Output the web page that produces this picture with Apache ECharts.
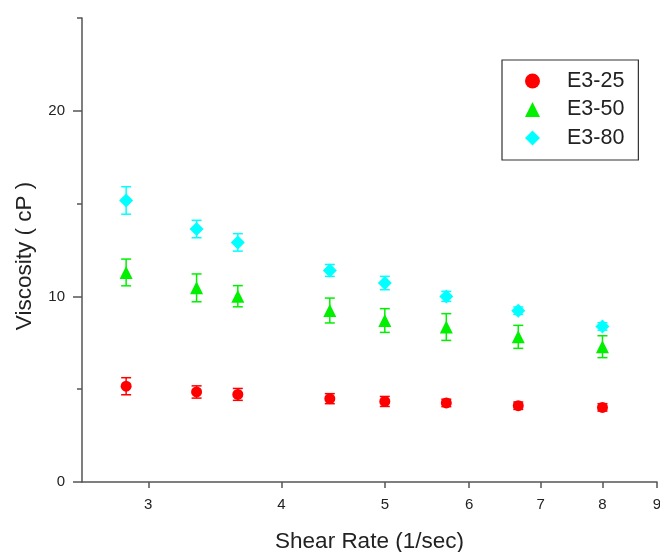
<!DOCTYPE html>
<html>
<head>
<meta charset="utf-8">
<script src="https://cdn.jsdelivr.net/npm/echarts@6/dist/echarts.min.js"></script>
<style>html,body{margin:0;padding:0;background:#fff;overflow:hidden;}#c{width:660px;height:552px;}</style>
</head>
<body>
<div id="c"></div>
<script>
var shearRate = [2.86, 3.33, 3.64, 4.44, 5.0, 5.71, 6.67, 8.0];
var xTicks = [3, 4, 5, 6, 7, 8, 9];
var yLabels = [0, 10, 20];
var yMinor = [5, 15, 25];
var e25 = [5.16, 4.85, 4.72, 4.49, 4.34, 4.26, 4.11, 4.02];
var e25Err = [0.46, 0.33, 0.32, 0.27, 0.27, 0.2, 0.2, 0.2];
var e50 = [11.29, 10.46, 10.01, 9.24, 8.70, 8.35, 7.82, 7.29];
var e50Err = [0.72, 0.75, 0.57, 0.67, 0.64, 0.72, 0.62, 0.59];
var e80 = [15.17, 13.63, 12.91, 11.4, 10.72, 10.0, 9.23, 8.38];
var e80Err = [0.74, 0.47, 0.47, 0.32, 0.36, 0.27, 0.2, 0.2];
var names = ['E3-25', 'E3-50', 'E3-80'];
var colors = ['#ff0000', '#00f000', '#00ffff'];

function pts(v) { return shearRate.map(function (x, i) { return [x, v[i]]; }); }
function errs(v, e) { return shearRate.map(function (x, i) { return [x, v[i] - e[i], v[i] + e[i]]; }); }
function errSeries(v, e, color) {
  return {
    type: 'custom', z: 1, silent: true,
    data: errs(v, e),
    encode: { x: 0, y: [1, 2] },
    renderItem: function (params, api) {
      var lo = api.coord([api.value(0), api.value(1)]);
      var hi = api.coord([api.value(0), api.value(2)]);
      var w = 5;
      var st = { stroke: color, lineWidth: 1.5 };
      return { type: 'group', children: [
        { type: 'line', shape: { x1: lo[0], y1: lo[1], x2: hi[0], y2: hi[1] }, style: st },
        { type: 'line', shape: { x1: lo[0] - w, y1: lo[1], x2: lo[0] + w, y2: lo[1] }, style: st },
        { type: 'line', shape: { x1: hi[0] - w, y1: hi[1], x2: hi[0] + w, y2: hi[1] }, style: st }
      ]};
    }
  };
}
var font = 'Liberation Sans, Arial, sans-serif';
var axisCol = '#555';
var chart = echarts.init(document.getElementById('c'));
chart.setOption({
  animation: false,
  backgroundColor: '#fff',
  grid: { left: 82, top: 18, width: 575, height: 464, containLabel: false, outerBoundsMode: 'none' },
  legend: {
    orient: 'vertical', left: 502, top: 60,
    data: [
      { name: names[0], icon: 'circle' },
      { name: names[1], icon: 'triangle' },
      { name: names[2], icon: 'diamond' }
    ],
    itemWidth: 15, itemHeight: 15, itemGap: 6.5,
    padding: [10, 14, 11, 23],
    borderColor: '#333', borderWidth: 1.2,
    textStyle: { fontFamily: font, fontSize: 21.5, color: '#222', padding: [0, 0, 0, 22] }
  },
  xAxis: {
    type: 'log', logBase: 10, min: 2.6, max: 9,
    name: 'Shear Rate (1/sec)', nameLocation: 'middle', nameGap: 48,
    nameTextStyle: { fontFamily: font, fontSize: 22.5, color: '#222' },
    axisLine: { lineStyle: { color: axisCol, width: 1.5 } },
    axisTick: { show: true, length: 6, customValues: xTicks, lineStyle: { color: axisCol, width: 1.5 } },
    axisLabel: { customValues: xTicks, fontFamily: font, fontSize: 15, color: '#222', margin: 15,
      formatter: function (v) { return String(Math.round(v)); } },
    splitLine: { show: false }, minorTick: { show: false }
  },
  yAxis: [{
    type: 'value', min: 0, max: 25, interval: 10,
    name: 'Viscosity ( cP )', nameLocation: 'middle', nameGap: 46,
    nameTextStyle: { fontFamily: font, fontSize: 22.5, color: '#222', padding: [0, 12, 0, 0] },
    axisLine: { show: true, lineStyle: { color: axisCol, width: 1.5 } },
    axisTick: { show: true, length: 9, customValues: yLabels, lineStyle: { color: axisCol, width: 1.5 } },
    axisLabel: { customValues: yLabels, fontFamily: font, fontSize: 15, color: '#222', margin: 17 },
    splitLine: { show: false }
  }, {
    type: 'value', min: 0, max: 25, position: 'left', offset: 0,
    axisLine: { show: false },
    axisTick: { show: true, length: 5, customValues: yMinor, lineStyle: { color: axisCol, width: 1.5 } },
    axisLabel: { show: false },
    splitLine: { show: false }
  }],
  series: [
    errSeries(e25, e25Err, colors[0]),
    errSeries(e50, e50Err, colors[1]),
    errSeries(e80, e80Err, colors[2]),
    { name: names[0], type: 'scatter', z: 3, symbol: 'circle', symbolSize: 11, itemStyle: { color: colors[0], opacity: 1 }, data: pts(e25) },
    { name: names[1], type: 'scatter', z: 3, symbol: 'triangle', symbolSize: 13, itemStyle: { color: colors[1], opacity: 1 }, data: pts(e50) },
    { name: names[2], type: 'scatter', z: 3, symbol: 'diamond', symbolSize: 14, itemStyle: { color: colors[2], opacity: 1 }, data: pts(e80) }
  ]
});
</script>
</body>
</html>
